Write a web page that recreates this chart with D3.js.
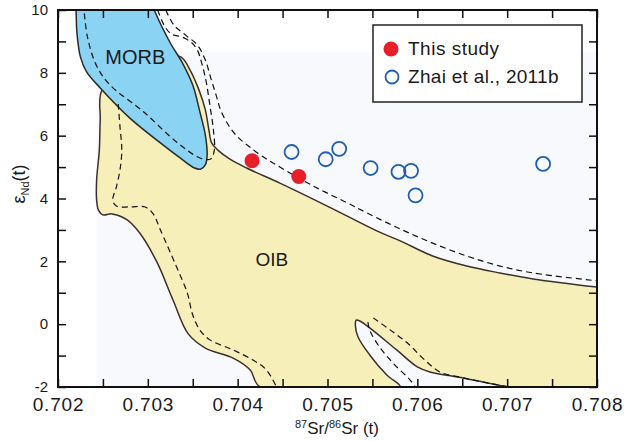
<!DOCTYPE html>
<html>
<head>
<meta charset="utf-8">
<script src="https://cdn.jsdelivr.net/npm/d3@7"></script>
<style>
  body { margin: 0; background: #fff; }
  svg { font-family: "Liberation Sans", Arial, sans-serif; }
</style>
</head>
<body>
<div id="chart"></div>
<script>
// Sr-Nd isotope plot

const FRAME_WIDTH = 630;
const FRAME_HEIGHT = 441;
const MARGINS = {left: 58, right: 33, top: 10, bottom: 54};
const VIS_WIDTH = FRAME_WIDTH - MARGINS.left - MARGINS.right;
const VIS_HEIGHT = FRAME_HEIGHT - MARGINS.top - MARGINS.bottom;

// samples
const thisStudySr = [0.70416, 0.70468];
const thisStudyNd = [5.20, 4.70];
const zhaiSr = [0.70460, 0.70498, 0.70513, 0.70548, 0.70579, 0.70593, 0.70598, 0.70740];
const zhaiNd = [5.48, 5.25, 5.58, 4.97, 4.85, 4.88, 4.10, 5.10];

// axis ticks
const xTicks = [0.702, 0.7025, 0.703, 0.7035, 0.704, 0.7045, 0.705, 0.7055, 0.706, 0.7065, 0.707, 0.7075, 0.708];
const xLabels = [0.702, 0.703, 0.704, 0.705, 0.706, 0.707, 0.708];
const yTicks = [-2, -1, 0, 1, 2, 3, 4, 5, 6, 7, 8, 9, 10];
const yLabels = [-2, 0, 2, 4, 6, 8, 10];

// field outlines, [87Sr/86Sr, eNd]
const morbField = [[0.70218,10.5],[0.70300,10.5],[0.70307,10],[0.70325,8.95],[0.70338,8.34],[0.70350,7.61],
  [0.70358,6.75],[0.70364,6.02],[0.70366,5.38],[0.70364,5.07],[0.70359,4.94],[0.70352,4.97],[0.70336,5.29],
  [0.70314,5.77],[0.70280,6.56],[0.70247,7.52],[0.70232,8.02],[0.70225,8.50],[0.70221,9.30],[0.70220,10]];

const oibField = [[0.70337,8.50],[0.70347,8.09],[0.70357,7.45],[0.70364,6.82],[0.70368,6.18],[0.70371,5.77],
  [0.70378,5.54],[0.70391,5.26],[0.70410,4.97],[0.70447,4.49],[0.70484,3.98],[0.70522,3.44],[0.70558,2.93],
  [0.70581,2.65],[0.70617,2.17],[0.70655,1.85],[0.70692,1.63],[0.70729,1.44],[0.70800,1.18],[0.70840,1.06],
  [0.70840,-2.6],[0.70760,-2.4],
  [0.70700,-2.0],[0.70678,-1.87],[0.70651,-1.71],[0.70614,-1.52],[0.70600,-1.36],[0.70577,-0.82],
  [0.70547,-0.12],[0.70536,0.10],[0.70532,0.13],[0.70531,-0.03],[0.70534,-0.41],[0.70547,-0.98],
  [0.70566,-1.62],[0.70581,-2.0],
  [0.70425,-2.0],[0.70414,-1.46],[0.70395,-1.08],[0.70364,-0.76],[0.70345,-0.31],[0.70328,0.77],
  [0.70310,1.98],[0.70291,2.90],[0.70277,3.32],[0.70260,3.51],[0.70250,3.48],[0.70245,3.63],[0.70243,3.95],
  [0.70243,4.59],[0.70246,5.54],[0.70247,6.50],[0.70249,7.45],[0.70280,8.09],[0.70314,8.57]];

const innerDash = [[0.70311,10],[0.70318,9.52],[0.70326,9.24],[0.70338,9.14],[0.70348,8.98],[0.70355,8.73],
  [0.70360,8.31],[0.70365,7.71],[0.70369,6.98],[0.70373,6.18],[0.70374,5.54],[0.70370,5.26],[0.70358,5.29],
  [0.70332,5.80],[0.70294,6.79],[0.70258,7.61],[0.70243,8.22],[0.70233,9.11],[0.70229,10]];

const outerDash = [[0.70320,10],[0.70329,9.52],[0.70342,9.20],[0.70355,8.89],[0.70364,8.41],[0.70370,7.84],
  [0.70376,7.29],[0.70381,6.82],[0.70389,6.37],[0.70399,5.99],[0.70412,5.67],[0.70427,5.35],[0.70447,5.00],
  [0.70484,4.40],[0.70522,3.86],[0.70544,3.54],[0.70581,3.03],[0.70617,2.58],[0.70655,2.17],[0.70692,1.85],
  [0.70729,1.63],[0.70803,1.37]];

const oibLeftDash = [[0.70267,7.01],[0.70269,6.28],[0.70271,5.54],[0.70269,4.91],[0.70265,4.37],[0.70261,3.95],
  [0.70265,3.76],[0.70280,3.73],[0.70297,3.73],[0.70306,3.51],[0.70314,3.00],[0.70332,1.82],[0.70344,0.99],
  [0.70350,0.29],[0.70358,-0.19],[0.70369,-0.50],[0.70395,-0.82],[0.70417,-1.14],[0.70430,-1.40],
  [0.70438,-1.71],[0.70444,-2.06]];

const slitDashA = [[0.70545,0.07],[0.70547,-0.19],[0.70558,-0.73],[0.70573,-1.24],[0.70592,-1.78],[0.70599,-2.06]];
const slitDashB = [[0.70551,0.20],[0.70570,-0.19],[0.70589,-0.60],[0.70606,-1.08],[0.70625,-1.52],
  [0.70651,-1.71],[0.70678,-1.87],[0.70703,-2.0]];

const FRAME1 = d3.select('#chart')
        .append('svg')
          .attr('width', FRAME_WIDTH)
          .attr('height', FRAME_HEIGHT);

const xscale = d3.scaleLinear()
            .domain([0.702, 0.708])
            .range([MARGINS.left, MARGINS.left + VIS_WIDTH]);
const yscale = d3.scaleLinear()
            .domain([-2, 10])
            .range([MARGINS.top + VIS_HEIGHT, MARGINS.top]);

FRAME1.append('clipPath')
    .attr('id', 'plotClip')
  .append('rect')
    .attr('x', MARGINS.left)
    .attr('y', MARGINS.top)
    .attr('width', VIS_WIDTH)
    .attr('height', VIS_HEIGHT);

const PLOT = FRAME1.append('g').attr('clip-path', 'url(#plotClip)');

// faint background panel behind the fields
PLOT.append('rect')
    .attr('x', xscale(0.70243))
    .attr('y', yscale(8.65))
    .attr('width', xscale(0.708) - xscale(0.70243))
    .attr('height', yscale(-2) - yscale(8.65))
    .attr('fill', '#f8f9fd');

const closedLine = d3.line()
    .x(d => xscale(d[0]))
    .y(d => yscale(d[1]))
    .curve(d3.curveCatmullRomClosed.alpha(0.5));

const openLine = d3.line()
    .x(d => xscale(d[0]))
    .y(d => yscale(d[1]))
    .curve(d3.curveCatmullRom.alpha(0.5));

PLOT.append('path')
    .attr('d', closedLine(oibField))
    .attr('fill', '#f7efb9')
    .attr('stroke', '#3a302c')
    .attr('stroke-width', 1.5);

PLOT.append('path')
    .attr('d', closedLine(morbField))
    .attr('fill', '#8bd3f3')
    .attr('stroke', '#2a2a2a')
    .attr('stroke-width', 1.5);

[innerDash, outerDash, oibLeftDash, slitDashA, slitDashB].forEach(line => {
  PLOT.append('path')
      .attr('d', openLine(line))
      .attr('fill', 'none')
      .attr('stroke', '#111')
      .attr('stroke-width', 1.2)
      .attr('stroke-dasharray', '6,4');
});

// field labels
PLOT.append('text')
    .attr('x', xscale(0.70286))
    .attr('y', yscale(8.28))
    .attr('text-anchor', 'middle')
    .attr('font-size', '20px')
    .attr('fill', '#1a1a1a')
    .text('MORB');

PLOT.append('text')
    .attr('x', xscale(0.70438))
    .attr('y', yscale(1.86))
    .attr('text-anchor', 'middle')
    .attr('font-size', '19px')
    .attr('fill', '#1a1a1a')
    .text('OIB');

// data points
PLOT.selectAll('.zhai')
    .data(zhaiSr)
    .enter()
    .append('circle')
      .attr('class', 'zhai')
      .attr('cx', d => xscale(d))
      .attr('cy', (d, i) => yscale(zhaiNd[i]))
      .attr('r', 7)
      .attr('fill', 'none')
      .attr('stroke', '#1f5eb0')
      .attr('stroke-width', 1.8);

PLOT.selectAll('.ours')
    .data(thisStudySr)
    .enter()
    .append('circle')
      .attr('class', 'ours')
      .attr('cx', d => xscale(d))
      .attr('cy', (d, i) => yscale(thisStudyNd[i]))
      .attr('r', 7.5)
      .attr('fill', '#e81f28');

// axes, ticks inward on all four sides
const bottomAxis = d3.axisBottom(xscale)
    .tickValues(xTicks)
    .tickSizeInner(-8).tickSizeOuter(0)
    .tickPadding(11)
    .tickFormat(d => xLabels.some(v => Math.abs(v - d) < 1e-7) ? d3.format('.3f')(d) : '');
const topAxis = d3.axisTop(xscale)
    .tickValues(xTicks)
    .tickSizeInner(-8).tickSizeOuter(0)
    .tickFormat('');
const leftAxis = d3.axisLeft(yscale)
    .tickValues(yTicks)
    .tickSizeInner(-8).tickSizeOuter(0)
    .tickPadding(10)
    .tickFormat(d => yLabels.includes(d) ? d : '');
const rightAxis = d3.axisRight(yscale)
    .tickValues(yTicks)
    .tickSizeInner(-8).tickSizeOuter(0)
    .tickFormat('');

const gBottom = FRAME1.append('g')
    .attr('transform', 'translate(0,' + (MARGINS.top + VIS_HEIGHT) + ')')
    .call(bottomAxis);
gBottom.selectAll('text')
    .attr('font-size', '19px')
    .attr('letter-spacing', '0.8px')
    .attr('fill', '#1a1a1a');

FRAME1.append('g')
    .attr('transform', 'translate(0,' + MARGINS.top + ')')
    .call(topAxis);

const gLeft = FRAME1.append('g')
    .attr('transform', 'translate(' + MARGINS.left + ',0)')
    .call(leftAxis);
gLeft.selectAll('text')
    .attr('font-size', '15px')
    .attr('fill', '#1a1a1a');

FRAME1.append('g')
    .attr('transform', 'translate(' + (MARGINS.left + VIS_WIDTH) + ',0)')
    .call(rightAxis);

FRAME1.selectAll('.domain').remove();
FRAME1.selectAll('.tick line')
    .attr('stroke', '#111')
    .attr('stroke-width', 1.5);

FRAME1.append('rect')
    .attr('x', MARGINS.left)
    .attr('y', MARGINS.top)
    .attr('width', VIS_WIDTH)
    .attr('height', VIS_HEIGHT)
    .attr('fill', 'none')
    .attr('stroke', '#111')
    .attr('stroke-width', 2);

// axis titles
const xTitle = FRAME1.append('text')
    .attr('x', 337)
    .attr('y', 434)
    .attr('text-anchor', 'middle')
    .attr('font-size', '17px')
    .attr('fill', '#1a1a1a');
xTitle.append('tspan').attr('font-size', '11px').attr('dy', '-6').text('87');
xTitle.append('tspan').attr('dy', '6').text('Sr/');
xTitle.append('tspan').attr('font-size', '11px').attr('dy', '-6').text('86');
xTitle.append('tspan').attr('dy', '6').text('Sr (t)');

const yTitle = FRAME1.append('text')
    .attr('transform', 'translate(25,184) rotate(-90)')
    .attr('text-anchor', 'middle')
    .attr('font-size', '18px')
    .attr('fill', '#1a1a1a');
yTitle.append('tspan').text('ε');
yTitle.append('tspan').attr('font-size', '11px').attr('dy', '4').text('Nd');
yTitle.append('tspan').attr('dy', '-4').text('(t)');

// legend
const legend = FRAME1.append('g');
legend.append('rect')
    .attr('x', 373).attr('y', 25)
    .attr('width', 209).attr('height', 77)
    .attr('fill', '#fff')
    .attr('stroke', '#222')
    .attr('stroke-width', 1.5);
legend.append('circle')
    .attr('cx', 391).attr('cy', 49).attr('r', 7.5)
    .attr('fill', '#e81f28');
legend.append('circle')
    .attr('cx', 392).attr('cy', 77).attr('r', 6.5)
    .attr('fill', 'none')
    .attr('stroke', '#1f5eb0')
    .attr('stroke-width', 1.8);
legend.append('text')
    .attr('x', 408).attr('y', 55)
    .attr('font-size', '19px')
    .attr('letter-spacing', '0.5px')
    .attr('fill', '#1a1a1a')
    .text('This study');
legend.append('text')
    .attr('x', 408).attr('y', 83)
    .attr('font-size', '19px')
    .attr('letter-spacing', '0.3px')
    .attr('fill', '#1a1a1a')
    .text('Zhai et al., 2011b');
</script>
</body>
</html>
